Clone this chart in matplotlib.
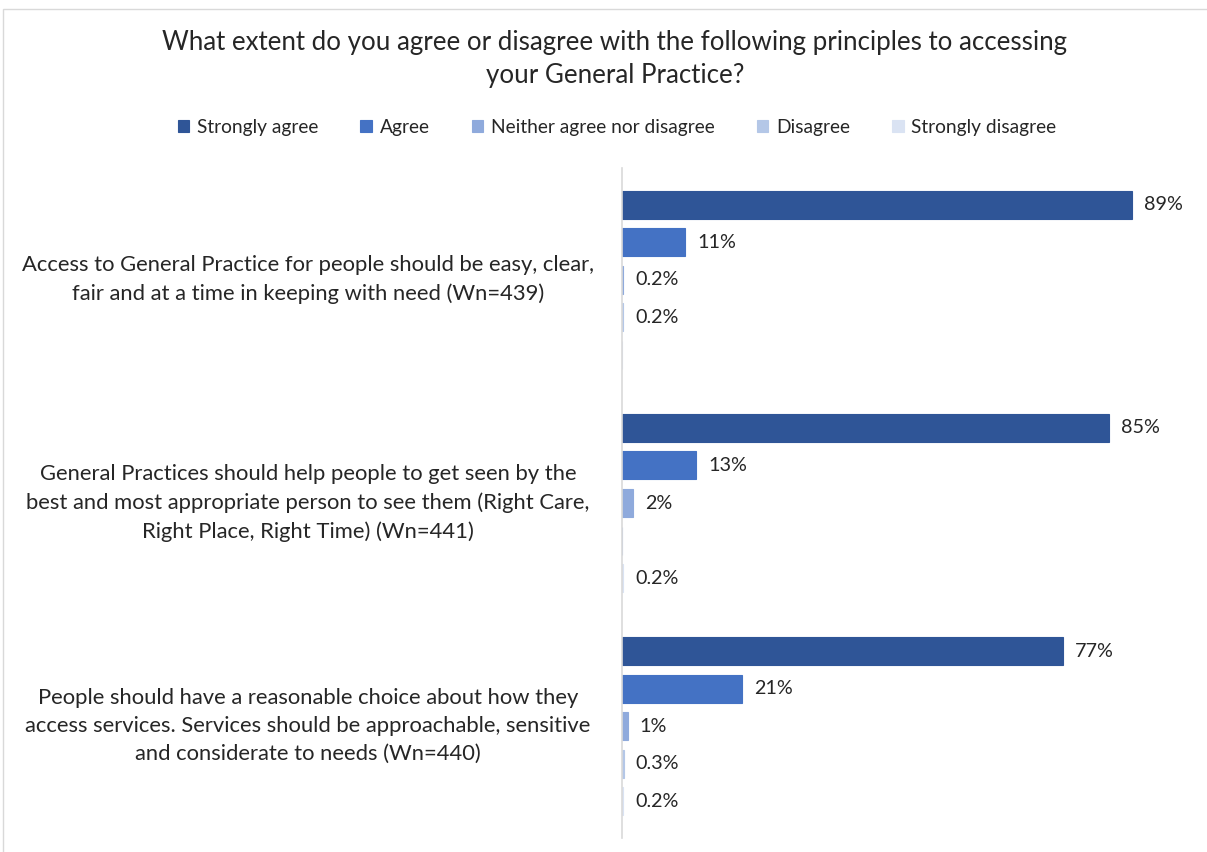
import numpy as np
import matplotlib.pyplot as plt
from matplotlib.patches import Rectangle

plt.rcParams['font.family'] = ['Lato', 'DejaVu Sans']

# Data
categories = [
    'Access to General Practice for people should be easy, clear,\nfair and at a time in keeping with need (Wn=439)',
    'General Practices should help people to get seen by the\nbest and most appropriate person to see them (Right Care,\nRight Place, Right Time) (Wn=441)',
    'People should have a reasonable choice about how they\naccess services. Services should be approachable, sensitive\nand considerate to needs (Wn=440)',
]
series = ['Strongly agree', 'Agree', 'Neither agree nor disagree', 'Disagree', 'Strongly disagree']
strongly_agree = [89, 85, 77]
agree = [11, 13, 21]
neither = [0.2, 2, 1]
disagree = [0.2, np.nan, 0.3]
strongly_disagree = [np.nan, 0.2, 0.2]
values = [strongly_agree, agree, neither, disagree, strongly_disagree]
colors = ['#2F5597', '#4472C4', '#8FAADC', '#B4C7E7', '#DAE3F3']

W, H = 1207, 852
fig = plt.figure(figsize=(W / 100, H / 100), dpi=100)
ax = fig.add_axes([622 / W, 1 - 838 / H, 573 / W, 670 / H])

step = 37.5 / 223
height = 28 / 223
y = np.arange(len(categories))
for j, (name, vals, c) in enumerate(zip(series, values, colors)):
    pos = y + (j - 2) * step
    v = np.array(vals, dtype=float)
    ax.barh(pos, np.nan_to_num(v), height=height, color=c, edgecolor=c,
            linewidth=0.8, label=name)
    for p, val in zip(pos, v):
        if np.isnan(val):
            continue
        ax.text(val + 2.1, p, f'{val:g}%', va='center', ha='left',
                fontsize=14.2, color='#262626')

ax.set_xlim(0, 100)
ax.set_ylim(2.5, -0.5)
ax.set_xticks([])
ax.set_yticks([])
for s in ['top', 'right', 'bottom']:
    ax.spines[s].set_visible(False)
ax.spines['left'].set_color('#D9D9D9')
ax.spines['left'].set_linewidth(1.2)

for i, cat in enumerate(categories):
    ax.text(-54.8, i, cat, ha='center', va='center', fontsize=15.8, color='#262626',
            linespacing=1.5, clip_on=False)

fig.text(615 / W, 1 - 59 / H,
         'What extent do you agree or disagree with the following principles to accessing\nyour General Practice?',
         ha='center', va='center', fontsize=18.6, color='#262626', linespacing=1.4)

fig.legend(loc='center', bbox_to_anchor=(617 / W, 1 - 127 / H), ncol=5, frameon=False,
           fontsize=13.8, handlelength=0.6, handleheight=0.6, handletextpad=0.4,
           columnspacing=2.2, labelcolor='#262626')

fig.patches.append(Rectangle((3 / W, -0.1), 1.1, 1 - 9 / H + 0.1, transform=fig.transFigure,
                             fill=False, edgecolor='#D9D9D9', linewidth=1))

plt.savefig('out.png', dpi=100)
